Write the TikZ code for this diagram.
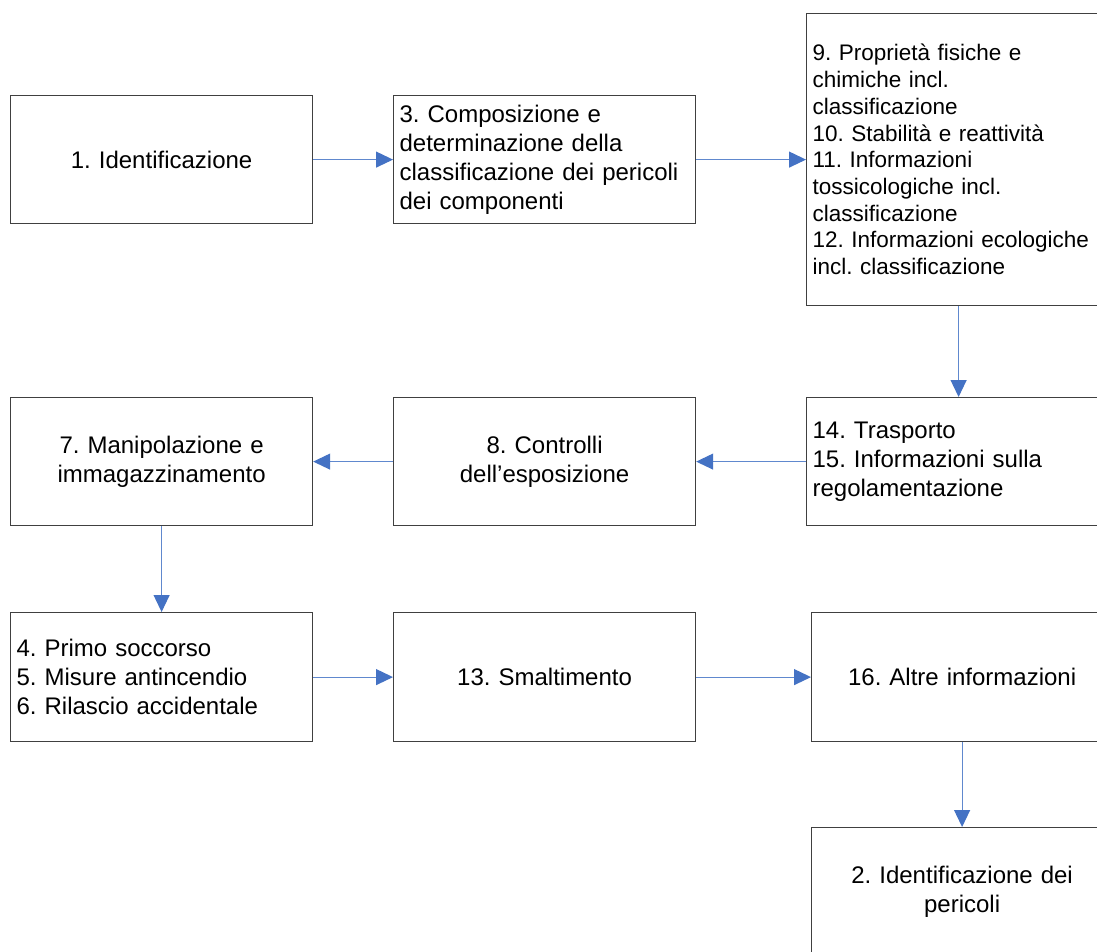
\documentclass[tikz,border=0pt]{standalone}
\usepackage{fontspec}
\setmainfont{Liberation Sans}
\usetikzlibrary{arrows.meta}
\definecolor{arrowblue}{RGB}{68,114,196}
\definecolor{linkblue}{RGB}{96,136,206}
\definecolor{boxgray}{RGB}{64,64,64}
\frenchspacing
\begin{document}
\begin{tikzpicture}[x=1pt,y=-1pt,
  box/.style={draw=boxgray, line width=1.2pt, fill=white, rectangle, anchor=north west,
    minimum height=128pt, inner xsep=6pt, inner ysep=0pt,
    font=\fontsize{24}{28.8}\selectfont\frenchspacing},
  cbox/.style={box, align=center, text width=290pt},
  lbox/.style={box, align=left, text width=290pt},
  link/.style={draw=linkblue, line width=1.1pt,
    -{Triangle[length=17pt,width=16pt,color=arrowblue]}},
]
\clip (0,0) rectangle (1097,952);
\fill[white] (0,0) rectangle (1097,952);

\node[cbox] (b1) at (10,95) {1. Identificazione};
\node[lbox] (b3) at (393,95) {3. Composizione e\\determinazione della\\classificazione dei pericoli\\dei componenti};
\node[lbox, text width=292pt, minimum height=292pt, font=\fontsize{22.5}{26.7}\selectfont\frenchspacing] (b9) at (806,13)
  {9. Proprietà fisiche e\\chimiche incl.\\classificazione\\10. Stabilità e reattività\\11. Informazioni\\tossicologiche incl.\\classificazione\\12. Informazioni ecologiche\\incl. classificazione};
\node[lbox, text width=292pt] (b14) at (806,397) {14. Trasporto\\15. Informazioni sulla\\regolamentazione};
\node[cbox] (b8) at (393,397) {8. Controlli\\dell’esposizione};
\node[cbox] (b7) at (10,397) {7. Manipolazione e\\immagazzinamento};
\node[lbox, minimum height=129pt] (b4) at (10,612) {4. Primo soccorso\\5. Misure antincendio\\6. Rilascio accidentale};
\node[cbox, minimum height=129pt] (b13) at (393,612) {13. Smaltimento};
\node[cbox, text width=289pt, minimum height=129pt] (b16) at (811,612) {16. Altre informazioni};
\node[cbox, text width=289pt, minimum height=129pt] (b2) at (811,827) {2. Identificazione dei\\pericoli};

\draw[link] (b1) -- (b3);
\draw[link] (b3) -- (b9);
\draw[link] (b9) -- (b14);
\draw[link] (b14) -- (b8);
\draw[link] (b8) -- (b7);
\draw[link] (b7) -- (b4);
\draw[link] (b4) -- (b13);
\draw[link] (b13) -- (b16);
\draw[link] (b16) -- (b2);
\end{tikzpicture}
\end{document}
